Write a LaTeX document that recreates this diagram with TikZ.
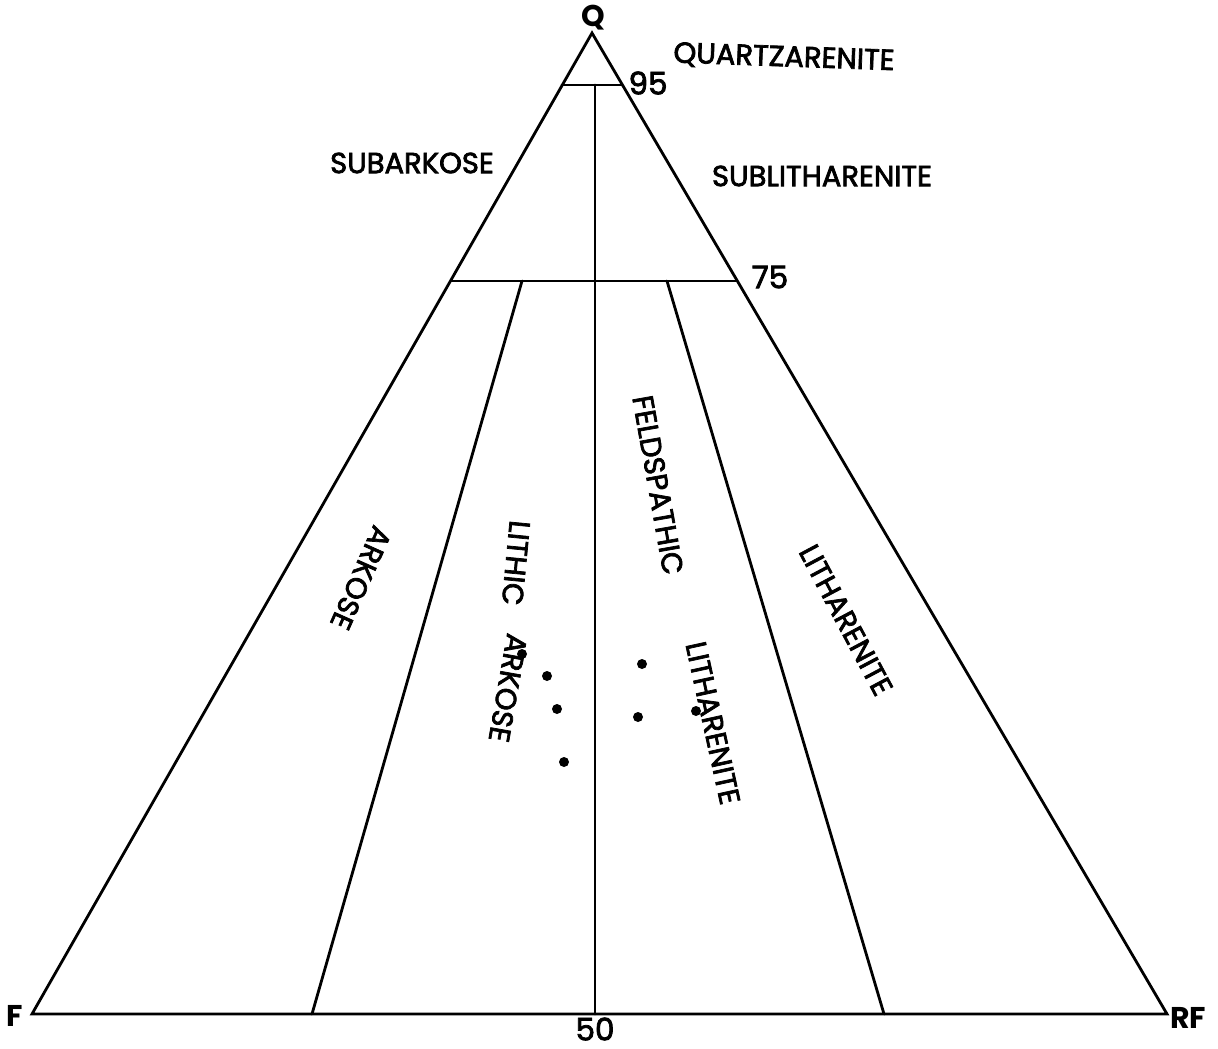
\documentclass[tikz,border=0pt]{standalone}
\usepackage{fontspec}
\setmainfont{Poppins}
\newfontfamily\medfont{Poppins}[FakeBold=2.5]
\begin{document}
\begin{tikzpicture}[x=1pt,y=-1pt,
  edge/.style={line width=2.8pt, line join=miter, line cap=round},
  lbl/.style={font=\medfont\fontsize{29}{29}\selectfont, inner sep=0pt},
  vlbl/.style={font=\fontsize{30}{30}\selectfont\bfseries, inner sep=0pt},
  num/.style={font=\medfont\fontsize{31}{31}\selectfont, inner sep=0pt},
  sample/.style={circle, fill=black, inner sep=0pt, minimum size=10pt}]
\useasboundingbox (0,0) rectangle (1218,1049);
% corners of the QFR triangle and the class boundaries
\coordinate (q) at (592,33);
\coordinate (f) at (32,1014);
\coordinate (rf) at (1167,1014);
\coordinate (a95) at (562,85);
\coordinate (b95) at (622,85);
\coordinate (m95) at (595,85);
\coordinate (a75) at (451,281);
\coordinate (b75) at (737,281);
\coordinate (l75) at (522,281);
\coordinate (r75) at (667,281);
\coordinate (lb) at (312,1014);
\coordinate (rb) at (884,1014);
\coordinate (mb) at (595,1014);
\draw[edge] (q) -- (f) -- (rf) -- cycle;
\draw[edge] (a95) -- (b95);
\draw[edge] (a75) -- (b75);
\draw[edge] (m95) -- (mb);
\draw[edge] (l75) -- (lb);
\draw[edge] (r75) -- (rb);
% pole labels
\node[vlbl] (tq) at (593,18) {Q};
\node[vlbl] (tf) at (15,1016) {F};
\node[vlbl] (trf) at (1188,1018) {RF};
% percentage marks
\node[num] (n95) at (648,83) {95};
\node[num] (n75) at (770,277) {75};
\node[num] (n50) at (595,1029) {50};
% field names
\node[lbl, rotate=-2] (qa) at (784,58) {QUARTZARENITE};
\node[lbl] (sa) at (412,163) {SUBARKOSE};
\node[lbl] (sl) at (822,176) {SUBLITHARENITE};
\node[lbl, rotate=-114] (ak) at (361,578) {ARKOSE};
\node[lbl, rotate=-95.5] (la1) at (516,563) {LITHIC};
\node[lbl, rotate=-100] (la2) at (508,688) {ARKOSE};
\node[lbl, rotate=-80] (fl1) at (658,485) {FELDSPATHIC};
\node[lbl, rotate=-77.7] (fl2) at (713,723) {LITHARENITE};
\node[lbl, rotate=-62] (lt) at (846,620) {LITHARENITE};
% sample points
\node[sample] (d1) at (522,654) {};
\node[sample] (d2) at (547,676) {};
\node[sample] (d3) at (557,709) {};
\node[sample] (d4) at (564,762) {};
\node[sample] (d5) at (642,664) {};
\node[sample] (d6) at (638,717) {};
\node[sample] (d7) at (696,711) {};
\end{tikzpicture}
\end{document}
